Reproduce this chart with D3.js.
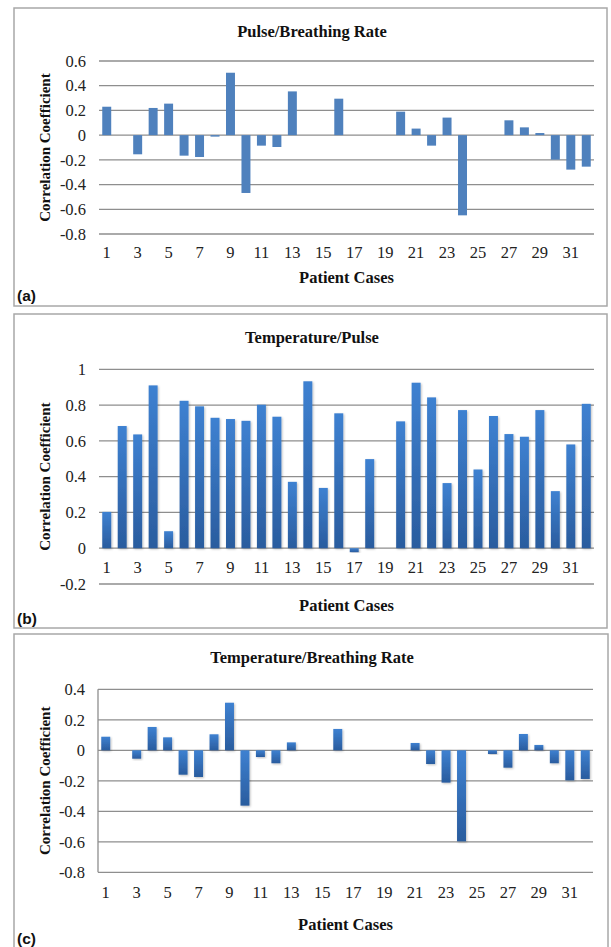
<!DOCTYPE html>
<html>
<head>
<meta charset="utf-8">
<script src="https://cdn.jsdelivr.net/npm/d3@7"></script>
<style>
  html, body { margin: 0; padding: 0; background: #fff; }
  svg { display: block; }
</style>
</head>
<body>
<svg id="chart" width="611" height="947"></svg>
<script>
// Patient case numbers 1..32 and the odd ones shown on the x axis
const cases = [1,2,3,4,5,6,7,8,9,10,11,12,13,14,15,16,17,18,19,20,21,22,23,24,25,26,27,28,29,30,31,32];
const caseTicks = [1,3,5,7,9,11,13,15,17,19,21,23,25,27,29,31];

// Correlation coefficients per patient case
const pulseBreathing = [0.23,0,-0.155,0.22,0.255,-0.166,-0.177,-0.012,0.505,-0.468,-0.085,-0.096,0.354,0,0,0.295,
                        0,0,0,0.19,0.053,-0.085,0.142,-0.649,0,0,0.12,0.063,0.017,-0.198,-0.279,-0.255];
const tempPulse = [0.203,0.683,0.636,0.91,0.095,0.824,0.793,0.729,0.722,0.712,0.802,0.735,0.371,0.933,0.337,0.754,
                   -0.022,0.498,0,0.709,0.925,0.843,0.364,0.772,0.44,0.739,0.638,0.623,0.772,0.319,0.58,0.807];
const tempBreathing = [0.089,0,-0.055,0.153,0.085,-0.16,-0.175,0.105,0.312,-0.363,-0.044,-0.085,0.052,0,0,0.14,
                       0,0,0,0,0.048,-0.09,-0.212,-0.597,0,-0.024,-0.114,0.107,0.035,-0.085,-0.197,-0.188];

// Y tick values for each panel
const ticksA = [0.6,0.4,0.2,0,-0.2,-0.4,-0.6,-0.8];
const ticksB = [1,0.8,0.6,0.4,0.2,0,-0.2];
const ticksC = [0.4,0.2,0,-0.2,-0.4,-0.6,-0.8];

const titles = ["Pulse/Breathing Rate", "Temperature/Pulse", "Temperature/Breathing Rate"];
const panelTags = ["(a)", "(b)", "(c)"];

const svg = d3.select("#chart");
const serif = "'Liberation Serif', 'Times New Roman', serif";
const gridColor = "#8e8e8e";

// Bar gradient for the shaded panels
const defs = svg.append("defs");
const grad = defs.append("linearGradient").attr("id", "barGrad")
  .attr("x1", 0).attr("y1", 0).attr("x2", 0).attr("y2", 1);
grad.append("stop").attr("offset", "0%").attr("stop-color", "#3e81d1");
grad.append("stop").attr("offset", "100%").attr("stop-color", "#2a5c9e");
const shadow = defs.append("filter").attr("id", "barShadow")
  .attr("x", "-30%").attr("y", "-10%").attr("width", "160%").attr("height", "130%");
shadow.append("feDropShadow").attr("dx", 1).attr("dy", 1).attr("stdDeviation", 1)
  .attr("flood-color", "#000").attr("flood-opacity", 0.25);

const panels = [
  { values: pulseBreathing, ticks: ticksA, domain: [-0.8, 0.6],
    box: [14, 8, 593, 298], x: [99, 594], y: [234, 61],
    titleY: 37, tickY: 258, xTitleY: 283, tagY: 301, fill: "#4f81bd", shade: false, leftAxis: false },
  { values: tempPulse, ticks: ticksB, domain: [-0.2, 1],
    box: [14, 314, 593, 314], x: [99, 594], y: [584, 369.3],
    titleY: 343, tickY: 573, xTitleY: 611, tagY: 624, fill: "url(#barGrad)", shade: true, leftAxis: false },
  { values: tempBreathing, ticks: ticksC, domain: [-0.8, 0.4],
    box: [14, 634, 594, 320], x: [98, 593], y: [872.3, 689.3],
    titleY: 663, tickY: 898, xTitleY: 930, tagY: 944, fill: "url(#barGrad)", shade: true, leftAxis: true }
];

panels.forEach((p, i) => {
  const g = svg.append("g");
  const [bx, by, bw, bh] = p.box;

  g.append("rect").attr("x", bx).attr("y", by).attr("width", bw).attr("height", bh)
    .attr("fill", "#fff").attr("stroke", "#a8a8a8").attr("stroke-width", 1.5);

  const x = d3.scaleBand().domain(cases).range(p.x).paddingInner(0.42).paddingOuter(0.21);
  const y = d3.scaleLinear().domain(p.domain).range(p.y);

  // horizontal gridlines
  g.append("g").selectAll("line").data(p.ticks).join("line")
    .attr("x1", p.x[0]).attr("x2", p.x[1])
    .attr("y1", d => y(d)).attr("y2", d => y(d))
    .attr("stroke", gridColor).attr("stroke-width", 1.3);

  if (p.leftAxis) {
    g.append("line").attr("x1", p.x[0]).attr("x2", p.x[0])
      .attr("y1", y(p.domain[0])).attr("y2", y(p.domain[1]))
      .attr("stroke", gridColor).attr("stroke-width", 1.3);
  }

  // y tick labels (plain hyphen minus, as in the source workbook)
  const yAxis = d3.axisLeft(y).tickValues(p.ticks).tickSize(0).tickPadding(0)
    .tickFormat(d => String(+d.toFixed(1)));
  const ya = g.append("g").attr("transform", `translate(${p.x[0] - 13},0)`).call(yAxis);
  ya.select(".domain").remove();
  ya.selectAll("text").style("font-family", serif).style("font-size", "16.5px").attr("fill", "#222");

  // bars
  g.append("g").selectAll("rect").data(p.values.map((v, k) => ({ c: cases[k], v }))).join("rect")
    .attr("x", d => x(d.c))
    .attr("width", x.bandwidth())
    .attr("y", d => y(Math.max(0, d.v)))
    .attr("height", d => Math.abs(y(d.v) - y(0)))
    .attr("fill", p.fill)
    .attr("filter", p.shade ? "url(#barShadow)" : null);

  // x tick labels (odd cases)
  const xAxis = d3.axisBottom(x).tickValues(caseTicks).tickSize(0).tickPadding(0);
  const xa = g.append("g").attr("transform", `translate(0,${p.tickY - 12})`).call(xAxis);
  xa.select(".domain").remove();
  xa.selectAll("text").style("font-family", serif).style("font-size", "16.5px").attr("fill", "#222");

  // titles
  g.append("text").attr("x", 312).attr("y", p.titleY).attr("text-anchor", "middle")
    .style("font-family", serif).attr("font-weight", "bold").style("font-size", "16.5px")
    .attr("fill", "#111").text(titles[i]);

  g.append("text").attr("x", (p.x[0] + p.x[1]) / 2).attr("y", p.xTitleY).attr("text-anchor", "middle")
    .style("font-family", serif).attr("font-weight", "bold").style("font-size", "16.5px")
    .attr("fill", "#111").text("Patient Cases");

  const cy = (p.y[0] + p.y[1]) / 2;
  g.append("text").attr("transform", `translate(50,${cy}) rotate(-90)`).attr("text-anchor", "middle")
    .style("font-family", serif).attr("font-weight", "bold").style("font-size", "15px")
    .attr("fill", "#111").text("Correlation Coefficient");

  g.append("text").attr("x", 17).attr("y", p.tagY)
    .style("font-family", "'Liberation Sans', Arial, sans-serif").attr("font-weight", "bold").style("font-size", "15.5px")
    .attr("fill", "#111").text(panelTags[i]);
});
</script>
</body>
</html>
